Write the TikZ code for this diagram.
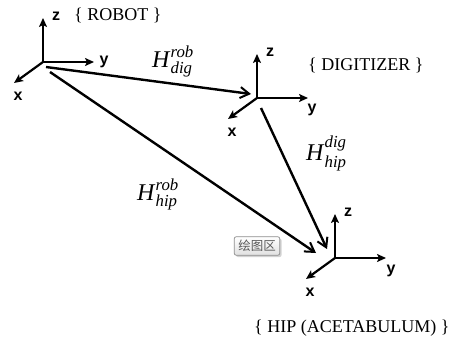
\documentclass[tikz,border=0pt]{standalone}
\usepackage{amsmath}
\usepackage{fontspec}
\setmainfont{Liberation Serif}
\setsansfont{Liberation Sans}
\newfontfamily\cjk{Noto Sans CJK SC}
\usetikzlibrary{arrows.meta,shadows}

\tikzset{
  axisline/.style={line width=2.2pt, -{Stealth[length=9pt,width=8pt,inset=2pt]}},
  xform/.style={line width=2.4pt, -{Straight Barb[length=9pt,width=11pt,line width=2pt]}},
  axislabel/.style={font=\sffamily\bfseries\fontsize{16}{16}\selectfont, inner sep=0pt},
  framename/.style={font=\fontsize{18}{20}\selectfont, inner sep=0pt, anchor=west},
  hlabel/.style={font=\fontsize{24}{28}\selectfont, inner sep=0pt, anchor=base west},
  tip/.style={draw=black!45, rounded corners=2pt, line width=0.7pt,
    top color=white, bottom color=black!12, inner xsep=4pt, inner ysep=3.5pt,
    font=\cjk\fontsize{12.5}{14}\selectfont, text=black!65,
    drop shadow={shadow xshift=1.8pt, shadow yshift=-1.8pt, opacity=0.35}}
}

% one coordinate frame: origin, z up, y right, x down-left;
% the last two arguments place the y label relative to the origin
\newcommand{\drawframe}[5]{%
  \coordinate (#1) at (#2,#3);
  \coordinate (#1z) at (#2,#3-44);
  \coordinate (#1y) at (#2+51,#3);
  \coordinate (#1x) at (#2-29,#3+21);
  \draw[axisline] (#1) -- (#1z);
  \draw[axisline] (#1) -- (#1y);
  \draw[axisline] (#1) -- (#1x);
  \node[axislabel] (#1zl) at (#2+13,#3-46) {z};
  \node[axislabel] (#1yl) at (#2+#4,#3+#5) {y};
  \node[axislabel] (#1xl) at (#2-25,#3+34) {x};
}

\begin{document}
\begin{tikzpicture}[x=1pt,y=-1pt]
\useasboundingbox[fill=white] (0,0) rectangle (455,345);

% the three frames
\drawframe{rob}{43}{62}{61}{0}
\drawframe{dig}{257}{98}{55}{12}
\drawframe{hip}{335}{258}{56}{13}

\node[framename] (robname) at (74,15) {\{ ROBOT \}};
\node[framename] (digname) at (308,65) {\{ DIGITIZER \}};
\node[framename] (hipname) at (254,328) {\{ HIP (ACETABULUM) \}};

% end points of the transformations, just off the frame origins
\coordinate (robA) at (46,67);
\coordinate (robB) at (50,72);
\coordinate (digIn) at (251,94);
\coordinate (digOut) at (261,108);
\coordinate (hipInA) at (316,253);
\coordinate (hipInB) at (327,249);

\draw[xform] (robA) -- (digIn);
\draw[xform] (robB) -- (hipInA);
\draw[xform] (digOut) -- (hipInB);

\node[hlabel] (Hrd) at (152,67) {\textit{H}$^{\textit{rob}}_{\textit{dig}}$};
\node[hlabel] (Hdh) at (306,160) {\textit{H}$^{\textit{dig}}_{\textit{hip}}$};
\node[hlabel] (Hrh) at (137,200) {\textit{H}$^{\textit{rob}}_{\textit{hip}}$};

% small tooltip box
\node[tip] (tipbox) at (257,246) {绘图区};
\end{tikzpicture}
\end{document}
